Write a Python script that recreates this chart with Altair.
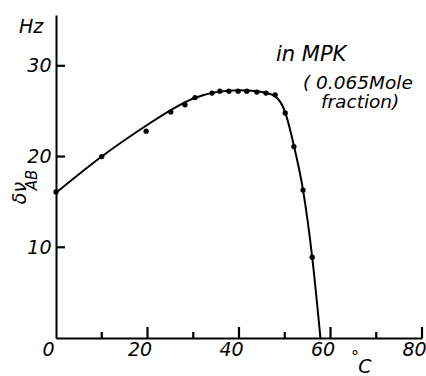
import altair as alt
import pandas as pd

# Measured points (temperature in °C, delta nu_AB in Hz)
pts_x = [0, 10, 19.7, 25.1, 28.2, 30.4, 34.1, 35.8, 37.8, 39.8, 41.7, 43.9, 45.9, 47.9, 50.1, 52.0, 54.0, 56.0]
pts_y = [16.1, 20.0, 22.8, 24.9, 25.7, 26.5, 27.0, 27.2, 27.2, 27.2, 27.2, 27.1, 27.0, 26.8, 24.8, 21.1, 16.3, 8.9]

# Hand-drawn smooth curve
curve_x = [0, 10, 20, 25, 30, 35, 40, 44, 46, 48, 50, 52, 54, 56, 57.8]
curve_y = [16.0, 20.0, 23.5, 25.1, 26.4, 27.1, 27.3, 27.2, 27.0, 26.6, 25.0, 21.2, 16.3, 8.9, 0.0]

x_labels = [0, 20, 40, 60, 80]
x_major_ticks = [20.0, 40.0, 60.0, 80.0]
x_minor_ticks = [10.0, 30.0, 50.0, 70.0]
y_ticks = [10.0, 20.0, 30.0]

FONT = "DejaVu Sans"

pts = pd.DataFrame({"t": pts_x, "v": pts_y})
curve = pd.DataFrame({"t": curve_x, "v": curve_y})
one = pd.DataFrame({"a": [0]})

xs = alt.Scale(domain=[0, 80], nice=False, zero=False)
ys = alt.Scale(domain=[0, 35.6], nice=False, zero=False)

x_axis = alt.Axis(values=x_labels, tickSize=0, title=None, grid=False,
                  domainColor="black", domainWidth=2, labelColor="black",
                  labelFont=FONT, labelFontSize=19, labelFontStyle="italic",
                  labelPadding=2, labelOffset=-8, labelFlush=False, labelOverlap=False)
y_axis = alt.Axis(values=[10, 20, 30], tickSize=0, title=None, grid=False,
                  domainColor="black", domainWidth=2, labelColor="black",
                  labelFont=FONT, labelFontSize=19, labelFontStyle="italic",
                  labelPadding=5, labelFlush=False, labelOverlap=False)

X = alt.X("t:Q", scale=xs, axis=x_axis)
Y = alt.Y("v:Q", scale=ys, axis=y_axis)

line = alt.Chart(curve).mark_line(color="black", strokeWidth=2, interpolate="monotone").encode(x=X, y=Y)
dots = alt.Chart(pts).mark_circle(color="black", size=28, opacity=1).encode(x=X, y=Y)

# Inward tick marks drawn as filled ticks (rects)
tick_major = alt.Chart(alt.Data(values=[{"t": t} for t in x_major_ticks])).mark_tick(
    fill="black", color="black", opacity=1, filled=True, thickness=2.2, size=11,
    orient="vertical").encode(x=X, y=alt.value(317.5))
tick_minor = alt.Chart(alt.Data(values=[{"t": t} for t in x_minor_ticks])).mark_tick(
    fill="black", color="black", opacity=1, filled=True, thickness=2.2, size=6,
    orient="vertical").encode(x=X, y=alt.value(320))
tick_y = alt.Chart(alt.Data(values=[{"v": v} for v in y_ticks])).mark_tick(
    fill="black", color="black", opacity=1, filled=True, thickness=2.2, size=9,
    orient="horizontal").encode(y=Y, x=alt.value(4.5))

def label(txt, x, y, size, align="left", angle=0, baseline="alphabetic"):
    return alt.Chart(one).mark_text(
        text=txt, font=FONT, fontSize=size, fontStyle="italic", color="black",
        align=align, baseline=baseline, angle=angle).encode(
        x=alt.value(x), y=alt.value(y))

texts = [
    label("Hz", -25, 12, 19, align="center", baseline="middle"),
    label("in MPK", 220, 46, 21),
    label("( 0.065Mole", 247, 74, 18.5),
    label("fraction)", 265, 93, 18.5),
    label("δν", -36, 178, 19, align="center", baseline="middle", angle=270),
    label("AB", -24, 165, 15, align="center", baseline="middle", angle=270),
    label("°", 299, 342, 16, align="center", baseline="middle"),
    label("C", 309, 358, 19, align="center", baseline="alphabetic"),
]

chart = alt.layer(line, dots, tick_major, tick_minor, tick_y, *texts).properties(
    width=366, height=323,
    autosize=alt.AutoSizeParams(type="none"),
    padding={"left": 56, "top": 15, "right": 4, "bottom": 38},
    background="white",
).configure_view(stroke=None)

chart.save("out.html", embed_options={"renderer": "svg", "actions": False})
